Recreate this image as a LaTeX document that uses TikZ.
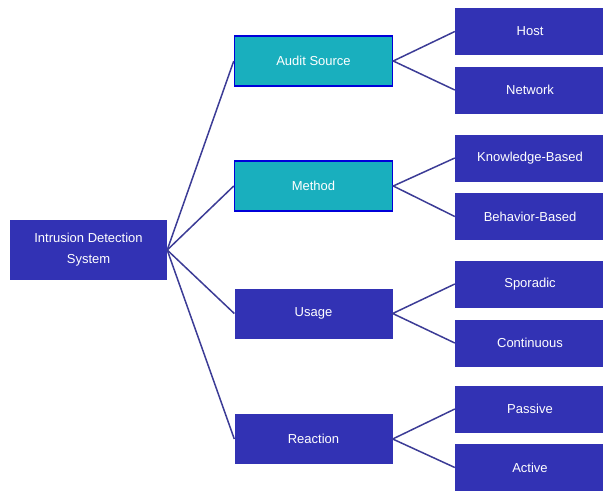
\documentclass[tikz,border=0pt]{standalone}
\usepackage{fontspec}
\setmainfont{Liberation Sans}
\definecolor{idsblue}{RGB}{50,50,180}
\definecolor{idsteal}{RGB}{25,175,190}
\definecolor{idsline}{RGB}{60,60,150}
\begin{document}
\begin{tikzpicture}[x=1pt,y=-1pt,
    box/.style={fill=idsblue,text=white,font=\fontsize{13}{15}\selectfont,align=center,inner sep=0pt},
    topbox/.style={box,minimum width=157pt,minimum height=60pt,font=\fontsize{13}{21}\selectfont},
    midbox/.style={box,minimum width=158pt,minimum height=50pt},
    tealbox/.style={midbox,fill=idsteal,draw=blue!85!black,line width=1.5pt},
    leafbox/.style={box,minimum width=150pt,minimum height=47pt},
    link/.style={idsline,line width=1.5pt}]
    \useasboundingbox (0,0) rectangle (603,491);
    % root
    \node[topbox] (ids) at (88.5,250) {Intrusion Detection\\System};
    % second level
    \node[tealbox] (audit) at (313.5,61) {Audit Source};
    \node[tealbox] (method) at (313.5,186) {Method};
    \node[midbox] (usage) at (313.5,313.5) {Usage};
    \node[midbox] (reaction) at (313.5,439) {Reaction};
    % leaves
    \node[leafbox] (host) at (530,31.5) {Host};
    \node[leafbox] (network) at (530,90) {Network};
    \node[leafbox] (knowledge) at (530,158) {Knowledge-Based};
    \node[leafbox] (behavior) at (530,216.5) {Behavior-Based};
    \node[leafbox] (sporadic) at (530,284) {Sporadic};
    \node[leafbox] (continuous) at (530,343) {Continuous};
    \node[leafbox] (passive) at (530,409) {Passive};
    \node[leafbox] (active) at (530,467.5) {Active};
    % connectors
    \foreach \m in {audit,method,usage,reaction}
      \draw[link] (ids.east) -- (\m.west);
    \draw[link] (host.west) -- (audit.east) -- (network.west);
    \draw[link] (knowledge.west) -- (method.east) -- (behavior.west);
    \draw[link] (sporadic.west) -- (usage.east) -- (continuous.west);
    \draw[link] (passive.west) -- (reaction.east) -- (active.west);
\end{tikzpicture}
\end{document}
